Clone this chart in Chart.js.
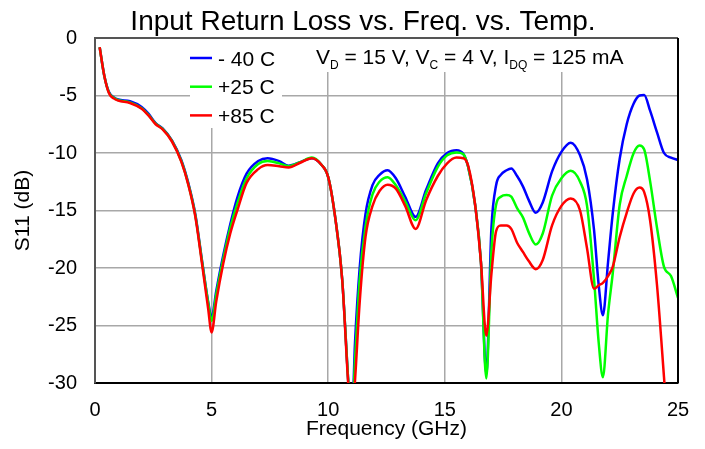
<!DOCTYPE html>
<html>
<head>
<meta charset="utf-8">
<title>Input Return Loss vs. Freq. vs. Temp.</title>
<script src="https://cdn.jsdelivr.net/npm/chart.js@4/dist/chart.umd.min.js"></script>
<style>
  body { margin: 0; background: #fff; }
  canvas { display: block; }
</style>
</head>
<body>
<canvas id="s11" width="705" height="449"></canvas>
<script>
// frequency points (GHz), shared by all three curves
const freq = [0.2, 0.4, 0.6, 0.8, 1.0, 1.5, 2.0, 2.3, 2.6, 2.9,
    3.3, 3.7, 4.0, 4.3, 4.6, 4.85, 5.0, 5.2, 5.5, 5.8,
    6.1, 6.5, 7.0, 7.4, 7.9, 8.3, 8.8, 9.3, 9.7, 10.0,
    10.3, 10.6, 10.85, 11.0, 11.15, 11.35, 11.6, 11.9, 12.2, 12.55,
    12.9, 13.3, 13.75, 14.2, 14.7, 15.1, 15.5, 15.8, 16.0, 16.3,
    16.55, 16.78, 17.0, 17.2, 17.4, 17.65, 17.85, 18.1, 18.35, 18.6,
    18.9, 19.2, 19.6, 20.0, 20.4, 20.8, 21.1, 21.4, 21.6, 21.78,
    22.0, 22.2, 22.5, 22.8, 23.1, 23.35, 23.55, 23.8, 24.1, 24.4,
    24.7, 25.0];

// S11 (dB) at -40 C
const s11Cold = [-0.8, -3.3, -4.7, -5.15, -5.35, -5.5, -6.0, -6.6, -7.4, -7.85,
    -8.9, -10.6, -12.6, -15.3, -19.5, -22.9, -24.3, -22.0, -18.9, -16.2,
    -13.9, -11.8, -10.7, -10.45, -10.7, -11.1, -10.8, -10.45, -11.0, -12.1,
    -15.6, -21.0, -29.5, -34, -26.5, -20.0, -15.3, -12.8, -11.9, -11.5,
    -12.2, -13.8, -15.55, -13.2, -10.9, -10.0, -9.75, -10.1, -11.2, -14.5,
    -19.5, -29.2, -16.5, -12.8, -11.9, -11.5, -11.35, -12.0, -12.9, -14.1,
    -15.2, -14.3, -11.6, -9.9, -9.1, -10.2, -12.3, -16.7, -21.5, -24.1,
    -19.5, -15.3, -10.5, -7.5, -5.7, -5.0, -4.95, -6.3, -8.2, -10.0,
    -10.4, -10.6];

// S11 (dB) at +25 C
const s11Room = [-0.8, -3.3, -4.75, -5.2, -5.4, -5.6, -6.1, -6.7, -7.45, -7.9,
    -8.95, -10.7, -12.7, -15.4, -19.6, -23.0, -24.6, -22.3, -19.2, -16.5,
    -14.4, -12.2, -10.95, -10.7, -10.9, -11.15, -10.8, -10.4, -11.0, -12.1,
    -15.6, -21.0, -29.5, -34, -28.0, -21.0, -16.4, -13.6, -12.5, -12.1,
    -12.8, -14.2, -15.85, -13.5, -11.2, -10.2, -9.95, -10.1, -11.2, -14.5,
    -19.5, -29.6, -18.5, -14.5, -13.8, -13.65, -13.8, -14.8, -15.6, -16.9,
    -17.95, -17.0, -13.7, -12.2, -11.55, -12.5, -14.6, -21.0, -26.5, -29.5,
    -24.0, -20.5, -14.5, -12.0, -10.0, -9.35, -9.7, -12.4, -16.5, -19.9,
    -20.7, -22.6];

// S11 (dB) at +85 C
const s11Hot = [-0.8, -3.3, -4.8, -5.25, -5.45, -5.65, -6.15, -6.75, -7.5, -7.95,
    -9.0, -10.75, -12.75, -15.5, -19.8, -23.5, -25.6, -22.9, -19.6, -17.0,
    -15.0, -12.6, -11.4, -11.05, -11.15, -11.25, -10.85, -10.45, -11.0, -12.1,
    -15.6, -21.0, -29.8, -34, -29.8, -23.0, -17.3, -14.6, -13.3, -12.75,
    -13.1, -14.6, -16.6, -14.1, -12.0, -10.9, -10.4, -10.45, -11.1, -14.5,
    -19.5, -25.9, -20.5, -16.8, -16.3, -16.3, -16.6, -17.8, -18.6, -19.4,
    -20.1, -19.3, -16.3, -14.6, -13.95, -15.0, -18.3, -21.8, -21.5, -21.3,
    -20.7, -19.9, -17.3, -15.2, -13.5, -13.0, -13.4, -15.8, -21.5, -29.5,
    -38, -45];

const seriesLabels = ["- 40 C", "+25 C", "+85 C"];
const seriesColors = ["#0000ff", "#00ff00", "#ff0000"];

const fontFamily = "'Liberation Sans', Arial, sans-serif";
Chart.defaults.font.family = fontFamily;
Chart.defaults.color = "#000";

const toPoints = (values) => values.map((v, i) => ({ x: freq[i], y: v }));

// title, legend box, bias note and frame
const extras = {
    id: "extras",
    beforeDatasetsDraw(chart) {
        const ctx = chart.ctx;
        const area = chart.chartArea;
        ctx.save();
        ctx.fillStyle = "#fff";
        ctx.fillRect(area.left + 95, area.top + 1, 92, 89);
        ctx.fillRect(area.left + 210, area.top + 1, 335, 33);
        ctx.restore();
    },
    afterDraw(chart) {
        const ctx = chart.ctx;
        const area = chart.chartArea;
        ctx.save();

        // title
        ctx.fillStyle = "#000";
        ctx.font = "28px " + fontFamily;
        ctx.textAlign = "center";
        ctx.textBaseline = "alphabetic";
        ctx.fillText("Input Return Loss vs. Freq. vs. Temp.", 363, 29.5);

        // legend
        ctx.font = "21px " + fontFamily;
        ctx.textAlign = "left";
        seriesLabels.forEach((label, i) => {
            const y = area.top + 20 + i * 28.7;
            ctx.strokeStyle = seriesColors[i];
            ctx.lineWidth = 2.5;
            ctx.beginPath();
            ctx.moveTo(area.left + 95, y);
            ctx.lineTo(area.left + 117, y);
            ctx.stroke();
            ctx.fillStyle = "#000";
            ctx.fillText(label, area.left + 123, y + 7.5);
        });

        // bias conditions with subscripts
        const parts = [["V", "D"], [" = 15 V, V", "C"], [" = 4 V, I", "DQ"], [" = 125 mA", ""]];
        let x = area.left + 221;
        const base = area.top + 25.5;
        parts.forEach(([main, sub]) => {
            ctx.font = "21px " + fontFamily;
            ctx.fillText(main, x, base);
            x += ctx.measureText(main).width;
            if (sub) {
                ctx.font = "12px " + fontFamily;
                ctx.fillText(sub, x, base + 5);
                x += ctx.measureText(sub).width;
            }
        });

        // frame top and right
        ctx.strokeStyle = "#555";
        ctx.lineWidth = 2;
        ctx.beginPath();
        ctx.moveTo(area.left, area.top);
        ctx.lineTo(area.right, area.top);
        ctx.stroke();
        ctx.strokeStyle = "#000";
        ctx.beginPath();
        ctx.moveTo(area.right, area.top);
        ctx.lineTo(area.right, area.bottom);
        ctx.stroke();
        ctx.restore();
    }
};

const context = document.getElementById("s11").getContext("2d");
const s11Chart = new Chart(context, {
    type: "line",
    data: {
        datasets: [
            { label: seriesLabels[0], data: toPoints(s11Cold), borderColor: seriesColors[0], order: 2 },
            { label: seriesLabels[1], data: toPoints(s11Room), borderColor: seriesColors[1], order: 1 },
            { label: seriesLabels[2], data: toPoints(s11Hot), borderColor: seriesColors[2], order: 0 }
        ]
    },
    options: {
        responsive: false,
        animation: false,
        layout: { padding: { top: 38, right: 27, left: 0, bottom: 0 } },
        datasets: {
            line: {
                borderWidth: 2.5,
                pointRadius: 0,
                fill: false,
                cubicInterpolationMode: "monotone",
                clip: 0
            }
        },
        plugins: {
            legend: { display: false },
            tooltip: { enabled: false }
        },
        scales: {
            x: {
                type: "linear",
                min: 0,
                max: 25,
                ticks: { stepSize: 5, padding: 15, font: { size: 20 }, maxRotation: 0 },
                grid: { color: "#a8a8a8", lineWidth: 1.5, drawTicks: false },
                border: { color: "#000", width: 2 },
                title: { display: true, text: "Frequency (GHz)", font: { size: 21 }, padding: { top: 0, bottom: 7 } },
                afterFit: (scale) => { scale.height = 66; }
            },
            y: {
                min: -30,
                max: 0,
                ticks: { stepSize: 5, padding: 18, font: { size: 20 } },
                grid: { color: "#a8a8a8", lineWidth: 1.5, drawTicks: false },
                border: { color: "#555", width: 2 },
                title: { display: true, text: "S11 (dB)", font: { size: 21 }, padding: { top: 11, bottom: 0 } },
                afterFit: (scale) => { scale.width = 95; }
            }
        }
    },
    plugins: [extras]
});
</script>
</body>
</html>
